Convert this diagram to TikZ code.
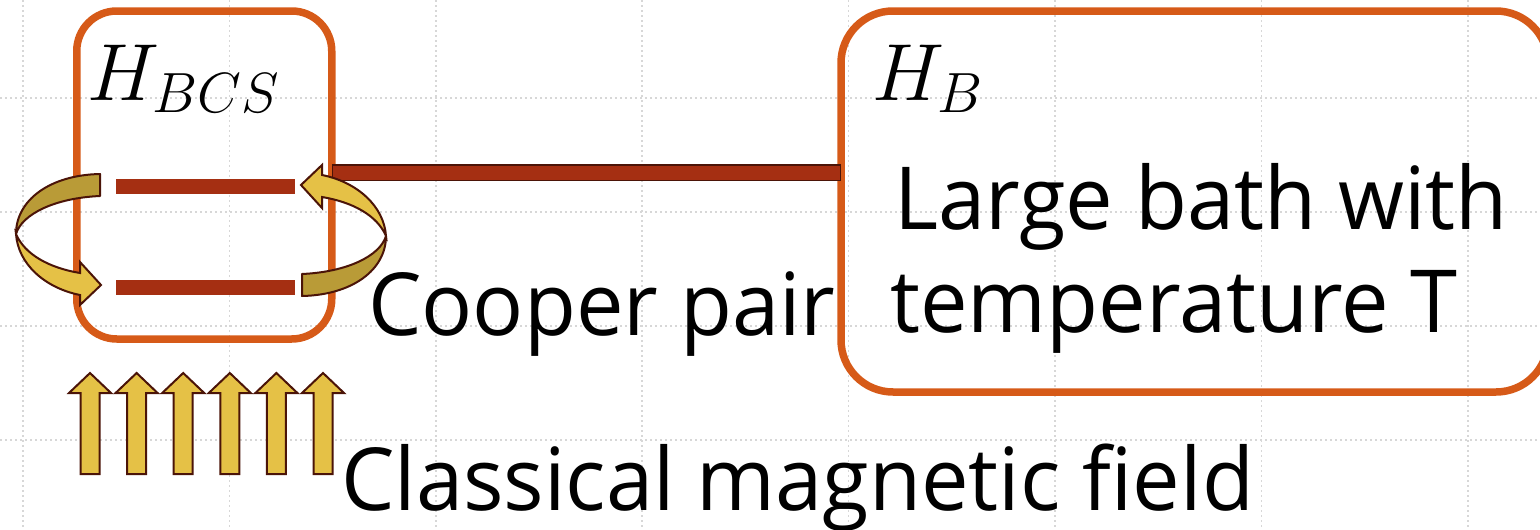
\documentclass[tikz,border=0pt]{standalone}
\usepackage{fix-cm}
\usepackage{fontspec}
\setmainfont{Open Sans}[FakeStretch=0.975]
\usepackage{tikz}
\usetikzlibrary{positioning, calc}
\definecolor{myorange}{RGB}{214,90,24}
\definecolor{mybar}{RGB}{165,47,18}
\definecolor{myoutline}{RGB}{75,20,8}
\definecolor{mygold}{RGB}{229,193,70}
\definecolor{mydarkgold}{RGB}{185,155,55}
\definecolor{mygrid}{RGB}{215,215,215}
\tikzstyle{gridline} = [mygrid, line width=1.5pt, dash pattern=on 2pt off 3pt]
\tikzstyle{system} = [rectangle, draw=myorange, line width=7.5pt, rounded corners=40pt, minimum width=255pt, minimum height=328pt, inner sep=0pt, outer sep=0pt]
\tikzstyle{bath} = [system, rounded corners=52pt, minimum width=707pt, minimum height=381pt]
\tikzstyle{level} = [rectangle, fill=mybar, minimum width=179pt, minimum height=15pt, inner sep=0pt]
\tikzstyle{bigtext} = [anchor=base west, inner sep=0pt, font={\fontsize{87}{103}\selectfont}]
\tikzstyle{mathtext} = [anchor=base west, inner sep=0pt, font={\fontsize{81}{100}\selectfont}]
\tikzstyle{ribbonback} = [fill=mydarkgold, draw=myoutline, line width=2pt, line join=round]
\tikzstyle{ribbonfront} = [fill=mygold, draw=myoutline, line width=2pt]
\tikzstyle{fieldarrow} = [fill=mygold, draw=myoutline, line width=2pt]
\tikzstyle{coupling} = [line width=17pt, draw=myoutline]

% half-turn ribbon arrow, left copy
\newcommand{\pairarrow}{%
  \path[ribbonback] (100,174) .. controls (50,175) and (16,200) .. (16,234)
    .. controls (22,214) and (55,198) .. (100,196) -- cycle;
  \path[ribbonfront] (16,234) .. controls (18,264) and (45,288) .. (80,295)
    -- (80,305) -- (101,285) -- (80,262) -- (80,273)
    .. controls (50,268) and (25,255) .. (16,234) -- cycle;
}

\begin{document}
\begin{tikzpicture}[x=1pt, y=-1pt]
    \useasboundingbox (0,0) rectangle (1540,530);
    \clip (0,0) rectangle (1540,530);
    \foreach \gx in {23,229.4,435.8,642.2,848.6,1055,1261.4,1467.8}
        \draw[gridline] (\gx,0) -- (\gx,530);
    \foreach \gy in {98,212,326,440}
        \draw[gridline] (0,\gy) -- (1540,\gy);

    \node (bcs) [system] at (204.25,175) {};
    \node (bath) [bath] at (1194.5,201.5) {};
    \node (upper) [level] at (205.5,186.5) {};
    \node (lower) [level] at (205.5,287) {};

    \coordinate (bary) at (600,172.5);
    \draw [coupling] (bcs.east |- bary) -- (bath.west |- bary);
    \draw [line width=14pt, mybar, shorten <=1.5pt, shorten >=1.5pt] (bcs.east |- bary) -- (bath.west |- bary);

    \pairarrow
    \begin{scope}[rotate around={180:(201,235)}]
        \pairarrow
    \end{scope}

    \foreach \i in {0,...,5}
        \path[fieldarrow, xshift={46.6*\i pt}] (90,373) -- (111,393) -- (99.5,393) -- (99.5,474)
            -- (80.5,474) -- (80.5,393) -- (69,393) -- cycle;

    \node (hbcs) [mathtext] at (87,100) {$H_{BCS}$};
    \node (hb) [mathtext] at (872,100) {$H_B$};
    \node (pair) [bigtext] at (368,335) {Cooper pair};
    \node (bath1) [bigtext] at (894,229) {Large bath with};
    \node (bath2) [bigtext] at (890,332) {temperature T};
    \node (field) [bigtext] at (341,510) {Classical magnetic field};
\end{tikzpicture}
\end{document}
